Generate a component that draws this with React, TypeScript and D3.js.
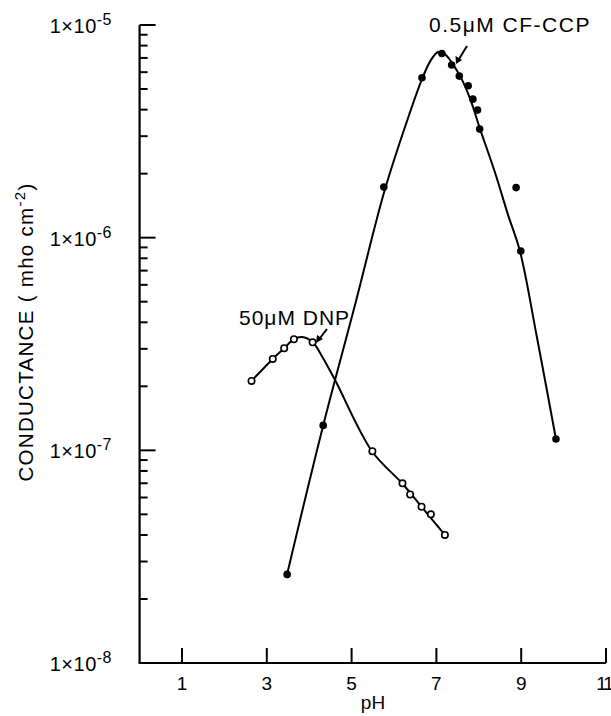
import React from "react";
import * as d3 from "d3";

// axis ticks
const phTicks = [1, 3, 5, 7, 9, 11];
const decadeExponents = [-8, -7, -6, -5];

// 0.5 uM CF-CCP (filled dots)
const cfPH = [3.48, 4.33, 5.76, 6.66, 7.13, 7.36, 7.54, 7.75, 7.86, 7.97, 8.02, 8.88, 8.99, 9.82];
const cfG = [2.61e-8, 1.31e-7, 1.73e-6, 5.65e-6, 7.35e-6, 6.48e-6, 5.75e-6, 5.18e-6, 4.48e-6, 3.98e-6, 3.24e-6, 1.72e-6, 8.65e-7, 1.13e-7];

// 50 uM DNP (open dots)
const dnpPH = [2.64, 3.14, 3.41, 3.64, 4.08, 5.49, 6.2, 6.38, 6.65, 6.87, 7.2];
const dnpG = [2.12e-7, 2.69e-7, 3.02e-7, 3.33e-7, 3.22e-7, 9.9e-8, 7.0e-8, 6.2e-8, 5.43e-8, 5.0e-8, 4.0e-8];

// hand drawn fitted curves
const cfCurvePH = [3.48, 4.33, 5.08, 5.78, 6.38, 6.66, 6.87, 7.04, 7.2, 7.37, 7.56, 7.79, 8.03, 8.38, 8.69, 8.97, 9.37, 9.82];
const cfCurveG = [2.62e-8, 1.31e-7, 4.82e-7, 1.67e-6, 3.9e-6, 5.57e-6, 6.84e-6, 7.46e-6, 7.3e-6, 6.62e-6, 5.75e-6, 4.53e-6, 3.24e-6, 2.03e-6, 1.28e-6, 8.65e-7, 3.41e-7, 1.13e-7];
const dnpCurvePH = [2.64, 3.14, 3.41, 3.64, 3.83, 4.08, 4.3, 4.61, 5.48, 6.19, 6.65, 7.2];
const dnpCurveG = [2.12e-7, 2.69e-7, 3.02e-7, 3.33e-7, 3.41e-7, 3.23e-7, 2.77e-7, 2.14e-7, 9.9e-8, 7.0e-8, 5.43e-8, 4.0e-8];

const W = 611;
const H = 716;
const font = "'Liberation Sans', Arial, sans-serif";

export default function App() {
  const x = d3.scaleLinear().domain([0, 11]).range([139.6, 606]);
  const y = d3.scaleLog().domain([1e-8, 1e-5]).range([663, 25]);
  const x0 = x(0);
  const y0 = y(1e-8);

  const line = d3
    .line<[number, number]>()
    .x((d) => x(d[0]))
    .y((d) => y(d[1]))
    .curve(d3.curveCatmullRom.alpha(0.5));

  const cfCurve = line(cfCurvePH.map((p, i) => [p, cfCurveG[i]]));
  const dnpCurve = line(dnpCurvePH.map((p, i) => [p, dnpCurveG[i]]));

  const yTicks = y.ticks().filter((t) => t > 1.01e-8);

  return (
    <svg width={W} height={H} style={{ position: "absolute", left: 0, top: 0, background: "#fff" }} fontFamily={font}>
      {/* y axis */}
      <line x1={x0} x2={x0} y1={y0} y2={y(1e-5)} stroke="#000" strokeWidth={2.2} />
      {yTicks.map((t, i) => {
        const major = Math.abs(Math.log10(t) - Math.round(Math.log10(t))) < 1e-9;
        return <line key={i} x1={x0} x2={x0 + (major ? 16 : 8)} y1={y(t)} y2={y(t)} stroke="#000" strokeWidth={2} />;
      })}
      {decadeExponents.map((e) => (
        <text key={e} x={112} y={y(Math.pow(10, e)) + 8} textAnchor="end" fontSize={20} letterSpacing={0.5}>
          1×10
          <tspan fontSize={16} dy={-8}>{`-${-e}`}</tspan>
        </text>
      ))}
      {/* x axis */}
      <line x1={x0 - 1} x2={x(11)} y1={y0} y2={y0} stroke="#000" strokeWidth={2.2} />
      {phTicks.map((t, i) => (
        <g key={t}>
          <line x1={x(t)} x2={x(t)} y1={y0} y2={y0 - 15} stroke="#000" strokeWidth={2} />
          <text
            x={i === phTicks.length - 1 ? x(t) - 2 : x(t)}
            y={y0 + 27}
            textAnchor="middle"
            fontSize={19}
            letterSpacing={i === phTicks.length - 1 ? -2 : 0}
          >
            {t}
          </text>
        </g>
      ))}
      <text x={373} y={709} textAnchor="middle" fontSize={19}>
        pH
      </text>
      <text
        transform={`translate(33, 332) rotate(-90)`}
        textAnchor="middle"
        fontSize={20.5}
        letterSpacing={1.3}
      >
        CONDUCTANCE ( mho cm
        <tspan fontSize={15} dy={-8}>-2</tspan>
        <tspan dy={8}>)</tspan>
      </text>

      {/* curves */}
      <path d={cfCurve ?? ""} fill="none" stroke="#000" strokeWidth={2} />
      <path d={dnpCurve ?? ""} fill="none" stroke="#000" strokeWidth={2} />

      {cfPH.map((p, i) => (
        <circle key={"cf" + i} cx={x(p)} cy={y(cfG[i])} r={3.8} fill="#000" />
      ))}
      {dnpPH.map((p, i) => (
        <circle key={"dnp" + i} cx={x(p)} cy={y(dnpG[i])} r={3.2} fill="#fff" stroke="#000" strokeWidth={1.6} />
      ))}

      {/* labels and arrows */}
      <text x={429} y={32} fontSize={21} letterSpacing={1.5}>
        0.5μM CF-CCP
      </text>
      <line x1={467} y1={46} x2={459} y2={59} stroke="#000" strokeWidth={2} />
      <path d="M456,64 L455.5,56 L462,60 Z" fill="#000" />
      <text x={239} y={325} fontSize={21} letterSpacing={1}>
        50μM DNP
      </text>
      <line x1={327} y1={329} x2={320} y2={338} stroke="#000" strokeWidth={2} />
      <path d="M316,343 L317,335 L323,339 Z" fill="#000" />
    </svg>
  );
}
